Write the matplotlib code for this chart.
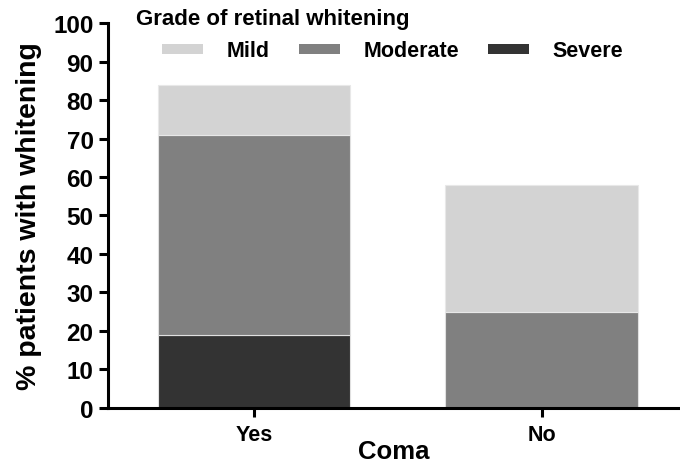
import matplotlib
matplotlib.use('Agg')
import matplotlib.pyplot as plt
import numpy as np

# data (% patients with whitening)
categories = ['Yes', 'No']
severe = [19, 0]
moderate = [52, 25]
mild = [13, 33]

grades = ['Mild', 'Moderate', 'Severe']
colors = {'Mild': '#d3d3d3', 'Moderate': '#808080', 'Severe': '#333333'}

plt.rcParams['font.family'] = ['Liberation Sans', 'DejaVu Sans']
plt.rcParams['font.weight'] = 'bold'

fig = plt.figure(figsize=(6.8, 4.64), dpi=100)
ax = fig.add_axes([0.159, 0.119, 0.841, 0.829])

x = np.arange(len(categories))
w = 0.67
b_sev = ax.bar(x, severe, w, color=colors['Severe'], edgecolor='#e0e0e0', linewidth=0.8)
b_mod = ax.bar(x, moderate, w, bottom=severe, color=colors['Moderate'],
               edgecolor='#e0e0e0', linewidth=0.8)
bottom2 = np.array(severe) + np.array(moderate)
b_mild = ax.bar(x, mild, w, bottom=bottom2, color=colors['Mild'],
                edgecolor='#e8e8e8', linewidth=0.8)

ax.set_ylim(0, 100)
ax.set_yticks(range(0, 101, 10))
ax.set_xlim(-0.507, 1.48)
ax.set_xticks(x)
ax.set_xticklabels(categories)

for s in ['top', 'right']:
    ax.spines[s].set_visible(False)
for s in ['left', 'bottom']:
    ax.spines[s].set_linewidth(2.2)
ax.tick_params(axis='both', width=2.2, length=6.5)
ax.tick_params(axis='x', labelsize=15.5, pad=5)
ax.tick_params(axis='y', labelsize=17.5, pad=4)

ax.set_ylabel('% patients with whitening', fontsize=20.5, fontweight='bold')
ax.yaxis.set_label_coords(-0.115, 0.5)
ax.set_xlabel('Coma', fontsize=18.5, fontweight='bold', labelpad=-4)

fig.text(136 / 680, 1 - 20 / 464, 'Grade of retinal whitening', fontsize=16,
         fontweight='bold', va='center', ha='left')
leg = fig.legend([b_mild, b_mod, b_sev], grades, ncol=3, frameon=False,
                 loc='center left', bbox_to_anchor=(162 / 680, 1 - 52 / 464),
                 bbox_transform=fig.transFigure, borderpad=0,
                 prop={'size': 15.5, 'weight': 'bold'}, handlelength=1.9,
                 handleheight=0.37, handletextpad=1.1, columnspacing=1.35,
                 borderaxespad=0)
for h in leg.legend_handles:
    h.set_edgecolor('none')

fig.savefig('out.png', dpi=100)
